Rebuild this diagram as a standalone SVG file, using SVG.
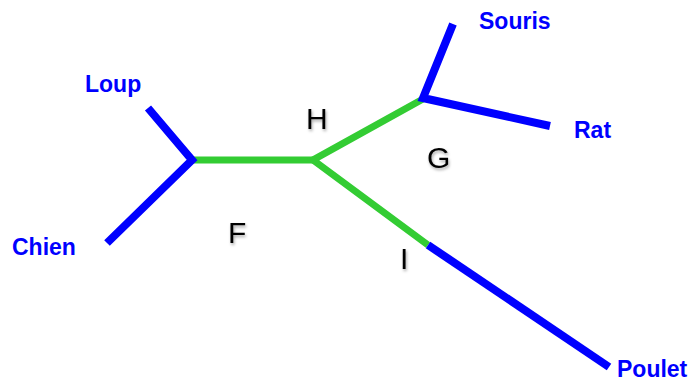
<svg xmlns="http://www.w3.org/2000/svg" width="698" height="381" viewBox="0 0 698 381">
  <style>
    .leaf { fill: none; stroke: #0000ff; stroke-width: 8; stroke-linecap: butt; stroke-linejoin: miter; }
    .inner { fill: none; stroke: #33cc33; stroke-width: 7; stroke-linecap: butt; stroke-linejoin: miter; }
    .taxon { font-family: "Liberation Sans", Arial, sans-serif; font-weight: bold; font-size: 23px; fill: #0000ff; }
    .clade { font-family: "Liberation Sans", Arial, sans-serif; font-size: 30px; fill: #000000; filter: url(#shadow); }
  </style>
  <defs>
    <filter id="shadow" x="-50%" y="-50%" width="200%" height="200%">
      <feDropShadow dx="1" dy="2" stdDeviation="1.5" flood-color="#000000" flood-opacity="0.35"/>
    </filter>
  </defs>

  <!-- branches -->
  <g id="connectors">
    <line class="inner" x1="192" y1="160" x2="313" y2="160"/>
    <polyline class="inner" points="423,99 313,160 428,245"/>
    <polyline class="leaf" points="148,108 192,160 107,243"/>
    <polyline class="leaf" points="453,24 423,98 550,126"/>
    <line class="leaf" x1="428" y1="245" x2="609" y2="367"/>
  </g>

  <!-- leaf taxa -->
  <g id="loup"><text class="taxon" x="85" y="92">Loup</text></g>
  <g id="chien"><text class="taxon" x="12" y="255">Chien</text></g>
  <g id="souris"><text class="taxon" x="479" y="29">Souris</text></g>
  <g id="rat"><text class="taxon" x="574" y="138">Rat</text></g>
  <g id="poulet"><text class="taxon" x="617" y="377" font-size="22">Poulet</text></g>

  <!-- internal branch labels -->
  <g id="H"><text class="clade" x="306" y="129">H</text></g>
  <g id="G"><text class="clade" x="427" y="168">G</text></g>
  <g id="F"><text class="clade" x="228" y="243">F</text></g>
  <g id="I"><text class="clade" x="400" y="269">I</text></g>
</svg>
